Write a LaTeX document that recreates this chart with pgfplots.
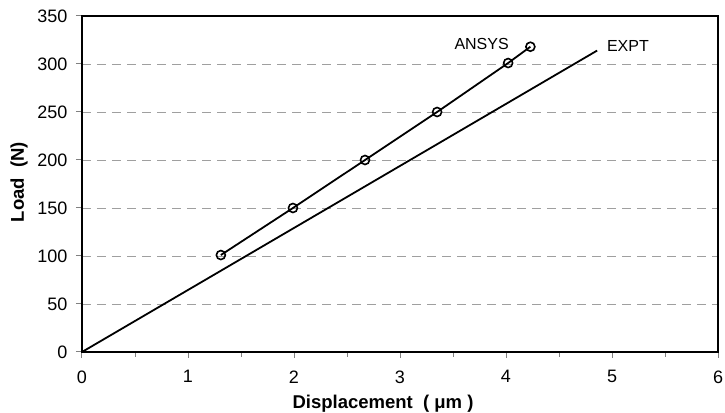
\documentclass[border=0pt]{standalone}
\usepackage{pgfplots}
\pgfplotsset{compat=1.18}
\usepackage{fontspec}
\setmainfont{Liberation Sans}
\begin{document}
\begin{tikzpicture}
\begin{axis}[
  name=main,
  scale only axis,
  width=636pt, height=336pt,
  xmin=0, xmax=6, ymin=0, ymax=350,
  xtick={0,1,...,6}, ytick={0,50,...,350},
  minor xtick={0.5,1.5,...,5.5},
  tick align=outside,
  tick style={gray, line width=1pt},
  major tick length=6pt, minor tick length=5pt,
  xtick pos=bottom, ytick pos=left,
  axis line style={black, line width=1.8pt},
  ymajorgrids,
  grid style={gray!75, dash pattern=on 9pt off 6pt, line width=0.9pt},
  xticklabel={\fontsize{18}{20}\selectfont\pgfmathprintnumber[assume math mode=true]{\tick}},
  yticklabel={\fontsize{18}{20}\selectfont\pgfmathprintnumber[assume math mode=true]{\tick}},
  yticklabel style={xshift=-5pt},
  xticklabel style={yshift=-9pt},
  xlabel={\textbf{Displacement\ \ ( μm )}},
  ylabel={\textbf{Load\ \ (N)}},
  label style={font=\fontsize{18.5}{20}\selectfont},
  xlabel style={at={(axis description cs:0.4733,-0.167)}, anchor=base},
  ylabel style={at={(axis description cs:-0.099,0.506)}, anchor=center},
  clip=false,
]
\addplot[black, line width=1.8pt] coordinates {(0,0) (4.86,314)};
\addplot[black, line width=1.8pt, mark=o, mark size=4.5pt, mark options={line width=1.6pt}] coordinates {
(1.31,101) (1.99,150) (2.67,200) (3.35,250) (4.02,301) (4.23,318)};
\node[font=\fontsize{16}{18}\selectfont] at (axis cs:3.77,320.5) {ANSYS};
\node[font=\fontsize{16}{18}\selectfont] at (axis cs:5.15,319) {EXPT};
\end{axis}
\pgfresetboundingbox
\path ([shift={(-82pt,-60pt)}]main.south west) rectangle ([shift={(7pt,16pt)}]main.north east);
\end{tikzpicture}
\end{document}
